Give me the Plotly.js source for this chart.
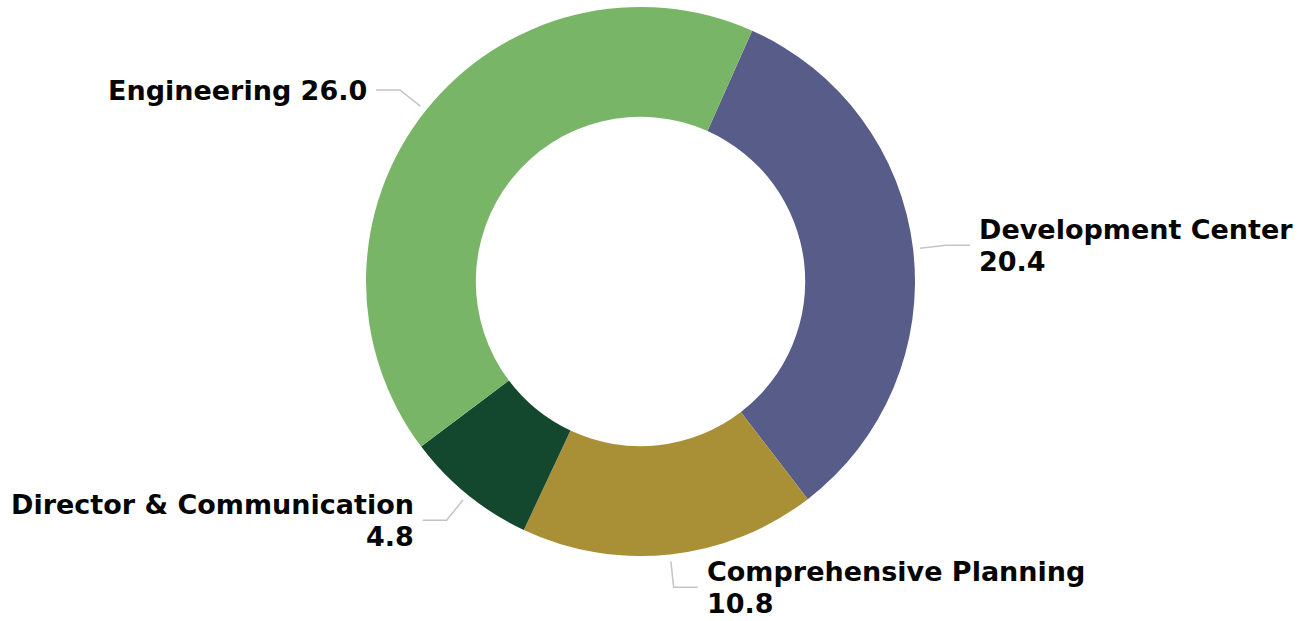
<!DOCTYPE html>
<html><head><meta charset="utf-8">
<script src="https://cdn.plot.ly/plotly-3.0.1.min.js"></script>
<style>html,body{margin:0;padding:0;background:#fff}#chart{width:1299px;height:621px}</style>
</head><body><div id="chart"></div>
<script>
const categories = ['Development Center', 'Comprehensive Planning', 'Director & Communication', 'Engineering'];
const values = [20.4, 10.8, 4.8, 26.0];
const labelOnOneLine = [false, false, false, true];
const colors = ['#585C89', '#A98F35', '#13472E', '#79B567'];

const W = 1299, H = 621;
const cx = 640.5, cy = 281.5, R = 274.5;
const rotation = 24;
const r1 = R + 7, r2 = R + 33, hLen = 24, gap = 7, lineGap = 32;

const px = x => x / W;
const py = y => 1 - y / H;

const total = values.reduce((a, b) => a + b, 0);
const shapes = [];
const annotations = [];
let acc = rotation;
values.forEach((v, i) => {
  const span = v / total * 360;
  const mid = (acc + span / 2) * Math.PI / 180;
  acc += span;
  const ux = Math.sin(mid), uy = -Math.cos(mid);
  const s = ux >= 0 ? 1 : -1;
  const x1 = cx + r1 * ux, y1 = cy + r1 * uy;
  const x2 = cx + r2 * ux, y2 = cy + r2 * uy;
  const x3 = x2 + s * hLen, y3 = y2;
  shapes.push({
    type: 'path', xref: 'paper', yref: 'paper',
    path: `M ${px(x1)} ${py(y1)} L ${px(x2)} ${py(y2)} L ${px(x3)} ${py(y3)}`,
    line: {color: '#c4c4c4', width: 1.5}
  });
  const lines = labelOnOneLine[i]
    ? [categories[i] + ' ' + values[i].toFixed(1)]
    : [categories[i], values[i].toFixed(1)];
  lines.forEach((t, k) => {
    annotations.push({
      xref: 'paper', yref: 'paper',
      x: px(x3 + s * gap), y: py(y3 + (k - (lines.length - 1) / 2) * lineGap),
      xanchor: s > 0 ? 'left' : 'right', yanchor: 'middle',
      align: s > 0 ? 'left' : 'right',
      showarrow: false,
      text: t,
      font: {family: 'DejaVu Sans, Verdana, sans-serif', size: 27, color: '#050505', weight: 700}
    });
  });
});

const trace = {
  type: 'pie',
  labels: categories,
  values: values,
  sort: false,
  direction: 'clockwise',
  rotation: rotation,
  hole: 0.6,
  textinfo: 'none',
  hoverinfo: 'none',
  marker: {colors: colors, line: {width: 0}},
  domain: {x: [px(cx - R), px(cx + R)], y: [py(cy + R), py(cy - R)]},
  showlegend: false
};

Plotly.newPlot('chart', [trace], {
  width: W, height: H,
  margin: {l: 0, r: 0, t: 0, b: 0},
  paper_bgcolor: '#ffffff',
  showlegend: false,
  shapes: shapes,
  annotations: annotations
}, {displayModeBar: false, staticPlot: true});
</script></body></html>
